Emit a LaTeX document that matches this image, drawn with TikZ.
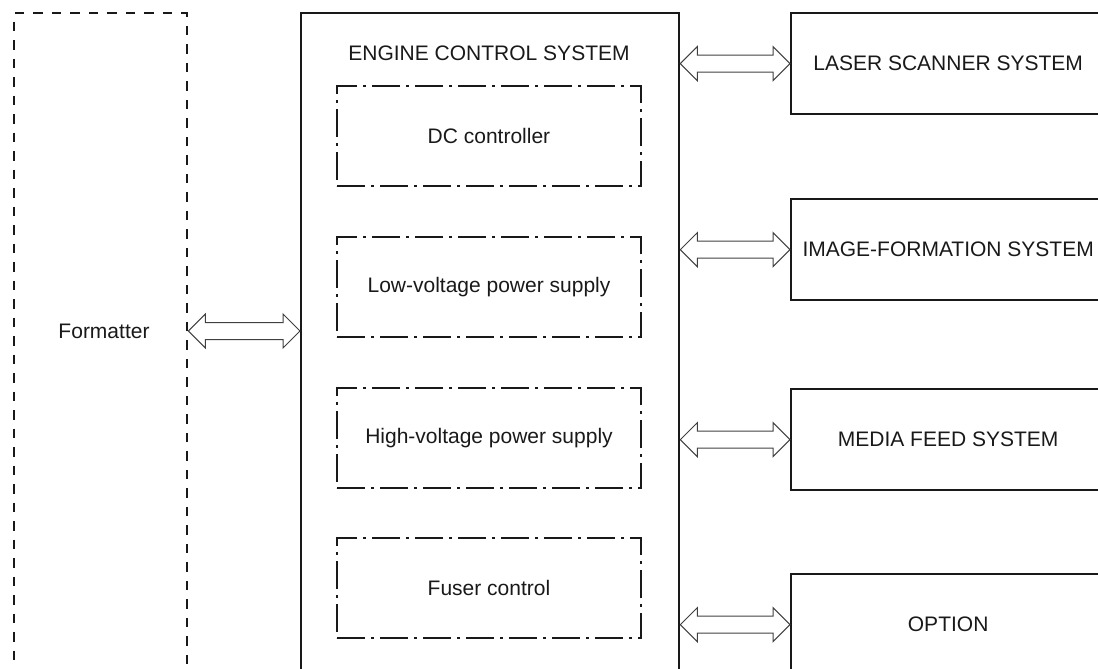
\documentclass[tikz,border=0pt]{standalone}
\usepackage{fontspec}
\setmainfont{Liberation Sans}
\usetikzlibrary{calc}
\tikzset{
  fmtbox/.style={draw=black!90, line width=2.4pt, dash pattern=on 9.5pt off 9pt, anchor=north west, minimum width=173pt, minimum height=700pt, inner sep=0pt},
  ecsbox/.style={draw=black!90, line width=2.3pt, anchor=north west, minimum width=378pt, minimum height=700pt, inner sep=0pt},
  subbox/.style={draw=black!90, line width=2.3pt, dash pattern=on 28pt off 6pt on 3pt off 6pt, minimum width=304pt, minimum height=100pt, inner sep=0pt},
  sysbox/.style={draw=black!90, line width=2.3pt, anchor=north west, minimum width=314pt, minimum height=101pt, inner sep=0pt},
  linkarrow/.style={draw=black!75, line width=1pt, line join=miter}
}
\newcommand{\dblarrow}[2]{%
  \draw[linkarrow] (#1) -- ++(17,-17) -- ++(0,8.5) -- ($(#2)+(-17,-8.5)$)
    -- ++(0,-8.5) -- (#2) -- ++(-17,17) -- ++(0,-8.5)
    -- ($(#1)+(17,8.5)$) -- ++(0,8.5) -- cycle;}

\begin{document}
\begin{tikzpicture}[x=1pt, y=-1pt, font=\fontsize{21}{25}\selectfont, text=black!90]
		%%%%% FRAME %%%%%
		\clip (0,0) rectangle (1098,669);
		
		%%%%% FORMATTER %%%%%
		\node[fmtbox] (fmt) at (13,12) {};
		\node (fmtlabel) at (104,331) {Formatter};
		
		%%%%% ENGINE CONTROL SYSTEM %%%%%
		\node[ecsbox] (ecs) at (300,12) {};
		\node (ecstitle) at (489,53) {ENGINE CONTROL SYSTEM};
		\node[subbox] (dcc) at (489,136) {DC controller};
		\node[subbox] (lvps) at (489,287) {Low-voltage power supply};
		\node[subbox] (hvps) at (489,438) {High-voltage power supply};
		\node[subbox] (fuser) at (489,588) {Fuser control};
		
		%%%%% SYSTEMS %%%%%
		\node[sysbox] (las) at (790,12) {LASER SCANNER SYSTEM};
		\node[sysbox] (img) at (790,198) {IMAGE-FORMATION SYSTEM};
		\node[sysbox] (mfs) at (790,388) {MEDIA FEED SYSTEM};
		\node[sysbox] (opt) at (790,573) {OPTION};
		
		%%%%% LINKS %%%%%
		\dblarrow{fmt.east |- fmtlabel}{ecs.west |- fmtlabel}
		\dblarrow{ecs.east |- las.west}{las.west}
		\dblarrow{ecs.east |- img.west}{img.west}
		\dblarrow{ecs.east |- mfs.west}{mfs.west}
		\dblarrow{ecs.east |- opt.west}{opt.west}
	\end{tikzpicture}
\end{document}
